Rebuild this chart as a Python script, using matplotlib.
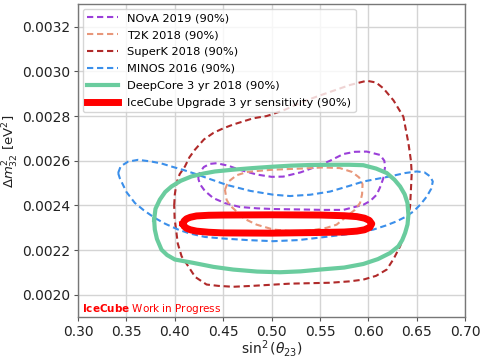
import matplotlib
matplotlib.use("Agg")
import matplotlib.pyplot as plt

# ---------------- data (sin^2 theta23, dm^2_32) ----------------
nova_x = [0.4241, 0.4260, 0.4300, 0.4362, 0.4432, 0.4550, 0.4673, 0.4850, 0.5000, 0.5120,
          0.5300, 0.5500, 0.5604, 0.5741, 0.5860, 0.5983, 0.6121, 0.6165, 0.6173, 0.6155,
          0.6120, 0.6086, 0.6020, 0.5948, 0.5741, 0.5534, 0.5300, 0.5017, 0.4850, 0.4673,
          0.4520, 0.4397, 0.4310, 0.4260, 0.4241]
nova_y = [0.002522, 0.002550, 0.002572, 0.002586, 0.002589, 0.002578, 0.002559, 0.002538, 0.002528, 0.002529,
          0.002548, 0.002580, 0.002600, 0.002630, 0.002640, 0.002641, 0.002626, 0.002600, 0.002574, 0.002522,
          0.002480, 0.002448, 0.002420, 0.002403, 0.002380, 0.002380, 0.002382, 0.002384, 0.002387, 0.002393,
          0.002410, 0.002433, 0.002465, 0.002495, 0.002522]

t2k_x = [0.4518, 0.4550, 0.4638, 0.4750, 0.4900, 0.5017, 0.5300, 0.5534, 0.5707, 0.5830,
         0.5905, 0.5940, 0.5935, 0.5914, 0.5860, 0.5776, 0.5672, 0.5569, 0.5400, 0.5224,
         0.5020, 0.4845, 0.4720, 0.4638, 0.4570, 0.4535, 0.4518]
t2k_y = [0.002470, 0.002505, 0.002535, 0.002550, 0.002556, 0.002560, 0.002565, 0.002570, 0.002567, 0.002550,
         0.002525, 0.002495, 0.002450, 0.002411, 0.002380, 0.002351, 0.002314, 0.002300, 0.002288, 0.002284,
         0.002292, 0.002314, 0.002340, 0.002373, 0.002400, 0.002425, 0.002470]

superk_x = [0.3993, 0.4000, 0.4017, 0.4050, 0.4104, 0.4150, 0.4207, 0.4300, 0.4400, 0.4500,
            0.4603, 0.4810, 0.4949, 0.5120, 0.5300, 0.5466, 0.5650, 0.5810, 0.5983, 0.6080,
            0.6155, 0.6260, 0.6362, 0.6414, 0.6440, 0.6448, 0.6440, 0.6431, 0.6397, 0.6328,
            0.6260, 0.6190, 0.6080, 0.5948, 0.5800, 0.5604, 0.5190, 0.4800, 0.4603, 0.4450,
            0.4328, 0.4210, 0.4138, 0.4070, 0.4030, 0.4017, 0.3998, 0.3993]
superk_y = [0.002400, 0.002450, 0.002500, 0.002540, 0.002574, 0.002615, 0.002649, 0.002695, 0.002725, 0.002745,
            0.002762, 0.002790, 0.002800, 0.002825, 0.002860, 0.002887, 0.002915, 0.002939, 0.002958, 0.002950,
            0.002924, 0.002870, 0.002797, 0.002679, 0.002600, 0.002545, 0.002470, 0.002395, 0.002306, 0.002217,
            0.002160, 0.002113, 0.002085, 0.002068, 0.002060, 0.002054, 0.002050, 0.002040, 0.002036, 0.002040,
            0.002046, 0.002080, 0.002128, 0.002172, 0.002230, 0.002277, 0.002340, 0.002400]

minos_x = [0.3414, 0.3440, 0.3517, 0.3620, 0.3750, 0.3860, 0.3966, 0.4086, 0.4207, 0.4350,
           0.4535, 0.4780, 0.5017, 0.5190, 0.5400, 0.5604, 0.5800, 0.5948, 0.6224, 0.6380,
           0.6500, 0.6580, 0.6638, 0.6666, 0.6650, 0.6604, 0.6540, 0.6466, 0.6380, 0.6293,
           0.6180, 0.6052, 0.5800, 0.5534, 0.5280, 0.5017, 0.4750, 0.4500, 0.4310, 0.4150,
           0.4034, 0.3900, 0.3793, 0.3680, 0.3587, 0.3500, 0.3431, 0.3414]
minos_y = [0.002545, 0.002575, 0.002596, 0.002604, 0.002597, 0.002588, 0.002574, 0.002559, 0.002542, 0.002520,
           0.002492, 0.002465, 0.002448, 0.002442, 0.002448, 0.002462, 0.002487, 0.002507, 0.002530, 0.002545,
           0.002552, 0.002548, 0.002530, 0.002507, 0.002475, 0.002440, 0.002405, 0.002373, 0.002348, 0.002329,
           0.002310, 0.002292, 0.002272, 0.002258, 0.002245, 0.002240, 0.002245, 0.002252, 0.002259, 0.002275,
           0.002292, 0.002318, 0.002344, 0.002378, 0.002411, 0.002460, 0.002522, 0.002545]

deepcore_x = [0.3786, 0.3800, 0.3845, 0.3900, 0.3966, 0.4060, 0.4173, 0.4300, 0.4414, 0.4603,
              0.4800, 0.5000, 0.5200, 0.5400, 0.5604, 0.5800, 0.5948, 0.6080, 0.6190, 0.6270,
              0.6328, 0.6375, 0.6404, 0.6414, 0.6405, 0.6380, 0.6350, 0.6310, 0.6224, 0.6100,
              0.5948, 0.5750, 0.5500, 0.5300, 0.5086, 0.4850, 0.4603, 0.4400, 0.4190, 0.4000,
              0.3920, 0.3862, 0.3815, 0.3793, 0.3786]
deepcore_y = [0.002336, 0.002385, 0.002426, 0.002460, 0.002485, 0.002510, 0.002530, 0.002543, 0.002552, 0.002560,
              0.002567, 0.002573, 0.002578, 0.002581, 0.002582, 0.002582, 0.002580, 0.002565, 0.002545, 0.002515,
              0.002485, 0.002450, 0.002411, 0.002358, 0.002315, 0.002277, 0.002245, 0.002217, 0.002187, 0.002160,
              0.002138, 0.002122, 0.002113, 0.002105, 0.002101, 0.002104, 0.002113, 0.002125, 0.002143, 0.002158,
              0.002178, 0.002202, 0.002250, 0.002292, 0.002336]

upgrade_x = [0.4086, 0.4095, 0.4120, 0.4160, 0.4224, 0.4350, 0.4500, 0.5000, 0.5500, 0.5750,
             0.5880, 0.5960, 0.6010, 0.6035, 0.6015, 0.5960, 0.5880, 0.5750, 0.5500, 0.5000,
             0.4500, 0.4350, 0.4224, 0.4160, 0.4120, 0.4095, 0.4086]
upgrade_y = [0.002318, 0.002330, 0.002340, 0.002347, 0.002353, 0.002356, 0.002357, 0.002358, 0.002357, 0.002354,
             0.002350, 0.002343, 0.002333, 0.002318, 0.002302, 0.002291, 0.002285, 0.002281, 0.002279, 0.002276,
             0.002277, 0.002280, 0.002285, 0.002291, 0.002298, 0.002307, 0.002318]

xticks = [0.30, 0.35, 0.40, 0.45, 0.50, 0.55, 0.60, 0.65, 0.70]
yticks = [0.0020, 0.0022, 0.0024, 0.0026, 0.0028, 0.0030, 0.0032]

# ---------------- figure ----------------
fig = plt.figure(figsize=(4.85, 3.60), dpi=100)
ax = fig.add_axes([0.161, 0.119, 0.798, 0.869])

dash_kw = dict(linestyle=(0, (3.0, 1.8)), linewidth=1.5, dash_capstyle='butt',
               dash_joinstyle='round')
ax.plot(nova_x, nova_y, color='#9b3fd9', label='NOvA 2019 (90%)', **dash_kw)
ax.plot(t2k_x, t2k_y, color='#e8977a', label='T2K 2018 (90%)', **dash_kw)
ax.plot(superk_x, superk_y, color='#b02a2a', label='SuperK 2018 (90%)', **dash_kw)
ax.plot(minos_x, minos_y, color='#3b8fea', label='MINOS 2016 (90%)', **dash_kw)
ax.plot(deepcore_x, deepcore_y, color='#6acc9e', linewidth=3.0,
        solid_joinstyle='round', label='DeepCore 3 yr 2018 (90%)')
ax.plot(upgrade_x, upgrade_y, color='#ff0000', linewidth=5.0,
        solid_joinstyle='round', label='IceCube Upgrade 3 yr sensitivity (90%)')

ax.set_xlim(0.30, 0.70)
ax.set_ylim(0.0019, 0.0033)
ax.set_xticks(xticks)
ax.set_yticks(yticks)
ax.set_xticklabels([f"{v:.2f}" for v in xticks])
ax.set_yticklabels([f"{v:.4f}" for v in yticks])
ax.tick_params(labelsize=10, length=3, width=0.8, color='#555555', labelcolor='#222222', pad=2.5)
ax.grid(True, color='#d4d4d4', linewidth=1.0)
ax.set_axisbelow(True)
for s in ax.spines.values():
    s.set_color('#777777')
    s.set_linewidth(1.0)

ax.set_xlabel(r'$\sin^2(\theta_{23})$', fontsize=10, color='#222222')
ax.xaxis.set_label_coords(0.5, -0.068)
ax.set_ylabel(r'$\Delta m^2_{32}$ [eV$^2$]', fontsize=9.5, color='#222222')
ax.yaxis.set_label_coords(-0.148, 0.53)

leg = ax.legend(loc='upper left', fontsize=8.2, labelspacing=0.6, handlelength=2.7,
                borderaxespad=0.4, framealpha=0.8, borderpad=0.4)

ax.text(0.009, 0.016, r'$\mathbf{IceCube}$ Work in Progress', transform=ax.transAxes,
        fontsize=7.5, color='#ff0000', ha='left', va='baseline')

fig.savefig('out.png', dpi=100)
